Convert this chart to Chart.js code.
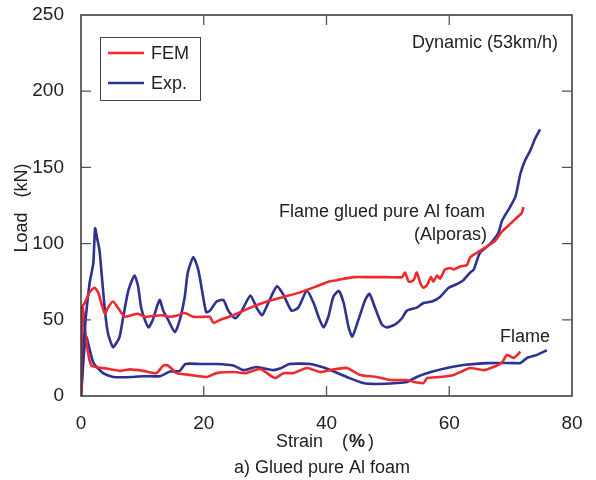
<!DOCTYPE html>
<html>
<head>
<meta charset="utf-8">
<script src="https://cdn.jsdelivr.net/npm/chart.js@4/dist/chart.umd.min.js"></script>
<style>
  body { margin: 0; background: #fff; }
</style>
</head>
<body>
<canvas id="chart" width="596" height="480"></canvas>
<script>
// Strain (%) / Load (kN)
const upperExpX = [0, 0.6, 1.4, 2.0, 2.3, 2.7, 3.0, 3.3, 3.9, 4.4, 5.2, 5.8, 6.3, 6.8, 7.7, 8.7, 9.3, 9.8, 10.4, 11.0, 11.7, 12.8, 13.4, 14.2, 15.3, 16.1, 16.9, 17.4, 18.3, 19.1, 19.9, 20.4, 21.0, 22.1, 23.2, 24.0, 25.1, 26.2, 27.6, 28.6, 29.5, 30.5, 31.9, 32.9, 34.3, 35.4, 36.8, 37.9, 38.7, 39.5, 40.3, 41.1, 42.0, 42.8, 43.6, 44.2, 45.2, 46.3, 47.0, 47.9, 49.0, 49.8, 51.2, 52.3, 53.1, 54.7, 55.8, 57.2, 58.5, 59.9, 61.0, 62.3, 63.4, 64.0, 65.0, 66.7, 68.0, 68.6, 69.9, 70.8, 71.6, 72.4, 73.2, 74.0, 74.8];
const upperExpY = [0, 43, 74, 87, 110, 102, 96, 83, 56, 41, 32, 35, 39, 50, 69, 79, 72, 58, 50, 45, 50, 63, 56, 50, 42, 50, 65, 81, 91, 83, 65, 55, 56, 62, 63, 56, 51, 56, 66, 58, 53, 61, 72, 67, 56, 58, 69, 61, 52, 45, 52, 65, 69, 61, 45, 39, 50, 63, 67, 58, 47, 45, 47, 51, 56, 58, 61, 62, 65, 71, 73, 76, 81, 83, 94, 100, 107, 115, 124, 131, 146, 155, 161, 169, 175];

const upperFemX = [0, 0.1, 0.6, 1.4, 2.2, 2.8, 3.3, 3.9, 4.4, 5.2, 6.0, 7.1, 8.2, 9.3, 10.4, 11.7, 13.1, 14.5, 15.8, 16.9, 18.3, 20.4, 21.0, 21.6, 22.7, 24.8, 27.6, 30.3, 33.0, 35.7, 38.4, 40.3, 41.7, 44.4, 47.1, 49.8, 52.3, 52.8, 53.4, 54.2, 54.7, 55.3, 55.8, 56.4, 57.0, 57.4, 58.0, 58.5, 59.3, 60.2, 60.7, 61.8, 62.9, 63.4, 64.5, 66.1, 67.5, 68.6, 69.7, 71.0, 71.8, 72.1];
const upperFemY = [0, 58, 61, 68, 71, 68, 61, 54, 58, 62, 58, 52, 53, 54, 52, 52.5, 53, 52, 53, 54.5, 52, 52, 52, 48, 50, 53, 58, 62, 65, 68, 72, 75, 76, 78, 78, 78, 78, 81, 75, 76, 81, 74, 71, 73, 78, 75, 79, 77, 83, 84, 83, 85, 86, 91, 94, 98, 102, 108, 112, 117, 120, 124];

const lowerExpX = [0, 0.8, 2.0, 3.6, 5.3, 8.5, 10.2, 12.9, 14.5, 16.1, 17.0, 19.4, 22.1, 24.8, 26.5, 28.6, 31.3, 32.4, 34.0, 37.3, 40.0, 43.3, 46.0, 48.2, 51.5, 53.1, 54.7, 57.0, 59.6, 62.3, 66.1, 70.5, 71.6, 72.7, 74.3, 75.9];
const lowerExpY = [0, 39, 22, 15, 12.5, 12.5, 13, 13, 16, 16.5, 21, 21, 21, 20, 17, 19, 17, 18, 21, 21, 18, 12.5, 8.5, 7.9, 8.5, 9.2, 12.5, 15.7, 18.4, 20.3, 21.6, 21.6, 21.6, 25, 27, 30];

const lowerFemX = [0, 0.27, 0.9, 1.7, 4.2, 6.4, 8.0, 10.2, 12.3, 13.4, 14.2, 15.6, 17.8, 20.5, 22.1, 24.8, 26.9, 29.2, 31.6, 33.0, 34.6, 36.8, 39.0, 40.6, 43.3, 45.5, 48.2, 50.4, 53.1, 54.2, 55.8, 56.4, 58.5, 60.7, 61.8, 63.4, 65.6, 67.2, 68.6, 69.4, 70.5, 71.6];
const lowerFemY = [0, 58, 35, 20, 18, 16.5, 17.5, 16.5, 15, 20, 20, 15, 13.8, 12.5, 15, 15.7, 15, 17.7, 11.8, 15, 15, 18.4, 15.7, 17, 18.4, 13.8, 12.5, 10.5, 10.5, 9.2, 8.5, 11.8, 12.5, 13.8, 15.7, 18.4, 17, 19, 22, 27, 25, 29];

const xTicks = [0, 20, 40, 60, 80];
const yTicks = [0, 50, 100, 150, 200, 250];

const RED = '#ee2a2e';
const BLUE = '#2e3192';
const FONT = "'Liberation Sans', Arial, sans-serif";
const TEXT = '#222';

const pts = (xs, ys) => xs.map((x, i) => ({ x: x, y: ys[i] }));

const lineStyle = { borderWidth: 2.6, pointRadius: 0, fill: false, tension: 0.2 };

// frame, inward ticks, legend and text labels
const decorations = {
    id: 'decorations',
    afterDraw(chart) {
        const ctx = chart.ctx;
        const a = chart.chartArea;
        const xs = chart.scales.x, ys = chart.scales.y;
        const tl = 10;

        ctx.save();
        ctx.strokeStyle = '#333';
        ctx.lineWidth = 1.5;
        ctx.strokeRect(a.left, a.top, a.right - a.left, a.bottom - a.top);

        ctx.strokeStyle = '#555';
        ctx.lineWidth = 1.3;
        ctx.beginPath();
        xTicks.slice(1, -1).forEach(v => {
            const px = xs.getPixelForValue(v);
            ctx.moveTo(px, a.bottom); ctx.lineTo(px, a.bottom - tl);
            ctx.moveTo(px, a.top); ctx.lineTo(px, a.top + tl);
        });
        yTicks.slice(1, -1).forEach(v => {
            const py = ys.getPixelForValue(v);
            ctx.moveTo(a.left, py); ctx.lineTo(a.left + tl, py);
            ctx.moveTo(a.right, py); ctx.lineTo(a.right - tl, py);
        });
        ctx.stroke();

        // legend
        ctx.strokeStyle = '#444';
        ctx.lineWidth = 1;
        ctx.strokeRect(100.5, 37.5, 100, 63);
        const entries = [{ label: 'FEM', color: RED }, { label: 'Exp.', color: BLUE }];
        ctx.font = '18px ' + FONT;
        ctx.textBaseline = 'middle';
        entries.forEach((e, i) => {
            const y = 53 + i * 30;
            ctx.strokeStyle = e.color;
            ctx.lineWidth = 2.6;
            ctx.beginPath();
            ctx.moveTo(108, y); ctx.lineTo(144, y);
            ctx.stroke();
            ctx.fillStyle = TEXT;
            ctx.textAlign = 'left';
            ctx.fillText(e.label, 151, y + 1);
        });

        // annotations
        ctx.fillStyle = TEXT;
        ctx.textAlign = 'right';
        ctx.fillText('Dynamic (53km/h)', 558, 43);
        ctx.textAlign = 'left';
        ctx.fillText('Flame glued pure Al foam', 279, 212);
        ctx.textAlign = 'right';
        ctx.fillText('(Alporas)', 487, 235);
        ctx.textAlign = 'left';
        ctx.fillText('Flame', 500, 337);

        // x title with bold %
        ctx.textAlign = 'left';
        ctx.fillText('Strain', 276, 442);
        ctx.fillText('(', 342, 442);
        ctx.font = 'bold 18px ' + FONT;
        ctx.fillText('%', 349, 442);
        ctx.font = '18px ' + FONT;
        ctx.fillText(')', 368, 442);

        // caption
        ctx.textAlign = 'center';
        ctx.fillText('a) Glued pure Al foam', 322, 468);

        // y title
        ctx.translate(22, 208);
        ctx.rotate(-Math.PI / 2);
        ctx.textAlign = 'center';
        ctx.fillText('Load   (kN)', 0, 0);
        ctx.restore();
    }
};

new Chart(document.getElementById('chart'), {
    type: 'line',
    data: {
        datasets: [
            { label: 'FEM', data: pts(upperFemX, upperFemY), borderColor: RED, ...lineStyle },
            { label: 'Exp.', data: pts(upperExpX, upperExpY), borderColor: BLUE, ...lineStyle },
            { label: 'FEM', data: pts(lowerFemX, lowerFemY), borderColor: RED, ...lineStyle },
            { label: 'Exp.', data: pts(lowerExpX, lowerExpY), borderColor: BLUE, ...lineStyle }
        ]
    },
    options: {
        responsive: false,
        animation: false,
        layout: { padding: { left: 0, right: 24, top: 15, bottom: 0 } },
        plugins: { legend: { display: false }, tooltip: { enabled: false } },
        scales: {
            x: {
                type: 'linear',
                min: 0, max: 80,
                afterBuildTicks: s => { s.ticks = xTicks.map(v => ({ value: v })); },
                afterFit: s => { s.height = 84; s.paddingLeft = 0; s.paddingRight = 0; },
                grid: { display: false },
                border: { display: false },
                ticks: { color: TEXT, font: { family: FONT, size: 19 }, padding: 8, maxRotation: 0 }
            },
            y: {
                type: 'linear',
                min: 0, max: 250,
                afterBuildTicks: s => { s.ticks = yTicks.map(v => ({ value: v })); },
                afterFit: s => { s.width = 81; s.paddingTop = 0; s.paddingBottom = 0; },
                grid: { display: false },
                border: { display: false },
                ticks: { color: TEXT, font: { family: FONT, size: 19 }, padding: 9 }
            }
        }
    },
    plugins: [decorations]
});
</script>
</body>
</html>
